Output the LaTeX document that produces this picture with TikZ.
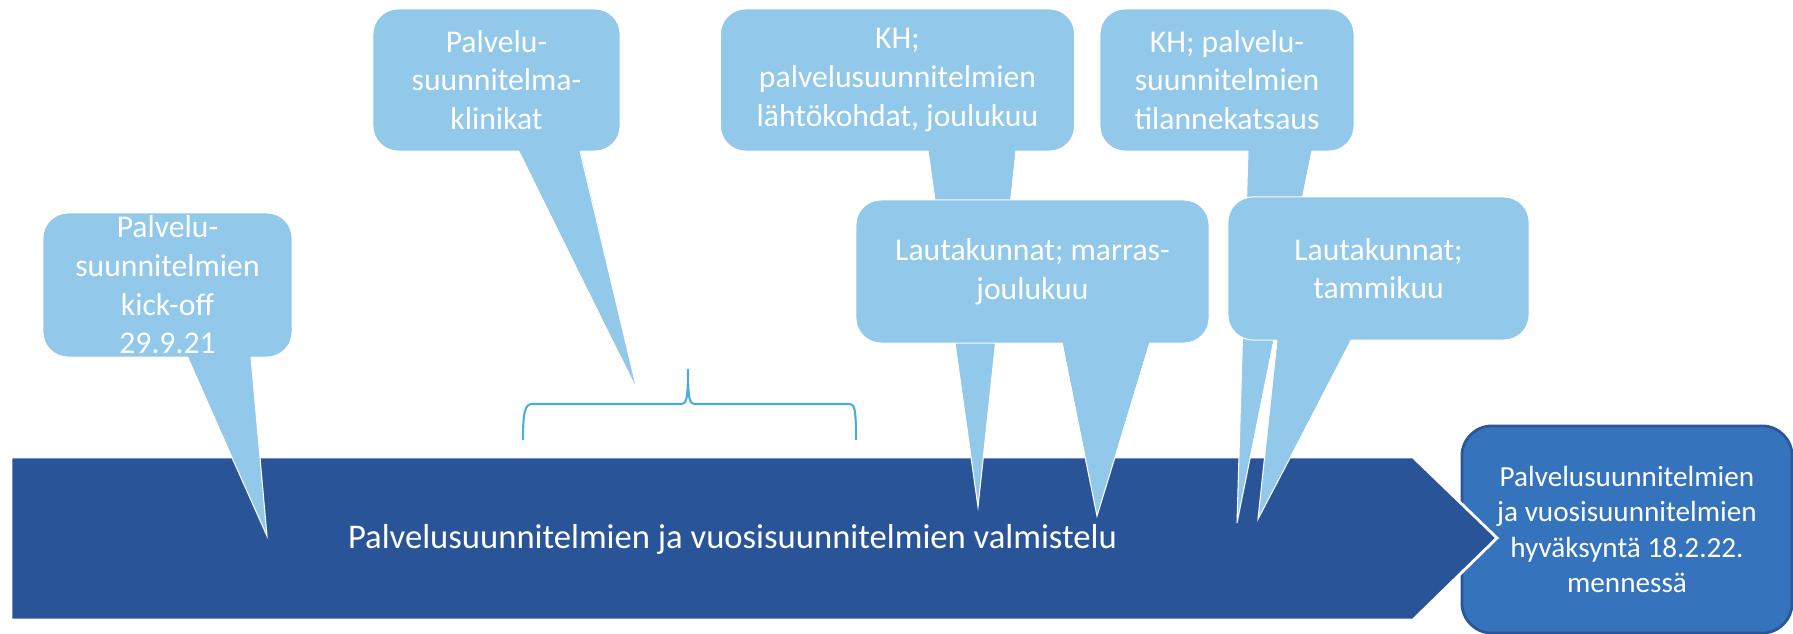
\documentclass[tikz,border=0pt]{standalone}
\usepackage{fontspec}
\setmainfont{Carlito}
\definecolor{callblue}{RGB}{146,200,234}
\definecolor{prepblue}{RGB}{41,85,152}
\definecolor{okblue}{RGB}{54,115,189}
\definecolor{okedge}{RGB}{44,86,150}
\definecolor{bracecol}{RGB}{75,172,222}
\tikzset{
	callbox/.style={fill=callblue, draw=white, line width=0.3pt, rounded corners=0.25cm, text=white, align=center, inner sep=0pt, font=\fontsize{9}{11}\selectfont},
	tail/.style={fill=callblue},
	tailedge/.style={draw=white, line width=0.3pt}
}
\begin{document}
\begin{tikzpicture}[x=0.01cm, y=-0.01cm]
	\useasboundingbox (0,0) rectangle (1793,634);
	\node[fill=okblue, draw=okedge, line width=0.8pt, rounded corners=0.3cm, minimum width=3.3cm, minimum height=2.07cm, text=white, align=center, font=\fontsize{8.3}{10}\selectfont] (ok) at (1627,529.5) {Palvelusuunnitelmien\\ja vuosisuunnitelmien\\hyväksyntä 18.2.22.\\mennessä};
	\filldraw[fill=prepblue, draw=white, line width=0.8pt] (11,457) -- (1413,457) -- (1497,538) -- (1413,620) -- (11,620) -- cycle;
	\node[text=white, anchor=base, inner sep=0pt, font=\fontsize{9.85}{12}\selectfont] (prep) at (732.5,549) {Palvelusuunnitelmien ja vuosisuunnitelmien valmistelu};
	\draw[bracecol, line width=0.6pt] (523,440) .. controls (523,412) and (525,404) .. (532,404) -- (682,404) .. controls (687,404) and (688,395) .. (688,369) .. controls (688,395) and (689,404) .. (694,404) -- (850,404) .. controls (855,404) and (856,412) .. (856,440);
	\node[callbox, minimum width=3.54cm, minimum height=1.42cm] (kh1) at (897.5,80) {KH;\\palvelusuunnitelmien\\lähtökohdat, joulukuu};
	\coordinate (kh1tip) at (978,507);
	\fill[tail] (928,148) -- (kh1tip) -- (1016,148) -- cycle;
	\draw[tailedge] (928,151) -- (kh1tip) -- (1016,151);
	\node[callbox, minimum width=2.54cm, minimum height=1.42cm] (kh2) at (1227,80) {KH; palvelu-\\suunnitelmien\\tilannekatsaus};
	\coordinate (kh2tip) at (1237,523);
	\fill[tail] (1248,148) -- (kh2tip) -- (1312,148) -- cycle;
	\draw[tailedge] (1248,151) -- (kh2tip) -- (1312,151);
	\node[callbox, minimum width=3.53cm, minimum height=1.43cm] (lk1) at (1032.5,271.5) {Lautakunnat; marras-\\joulukuu};
	\coordinate (lk1tip) at (1097,516);
	\fill[tail] (1062,340) -- (lk1tip) -- (1150,340) -- cycle;
	\draw[tailedge] (1062,343) -- (lk1tip) -- (1150,343);
	\node[callbox, minimum width=3.01cm, minimum height=1.43cm] (lk2) at (1378.5,268.5) {Lautakunnat;\\tammikuu};
	\coordinate (lk2tip) at (1258,519);
	\fill[tail] (1277,337) -- (lk2tip) -- (1352,337) -- cycle;
	\draw[tailedge] (1277,340) -- (lk2tip) -- (1352,340);
	\node[callbox, minimum width=2.49cm, minimum height=1.44cm] (kick) at (167.5,285) {Palvelu-\\suunnitelmien\\kick-off\\29.9.21};
	\coordinate (kicktip) at (267,536);
	\fill[tail] (187,354) -- (kicktip) -- (251,354) -- cycle;
	\draw[tailedge] (187,357) -- (kicktip) -- (251,357);
	\node[callbox, minimum width=2.47cm, minimum height=1.42cm] (klin) at (496.5,80) {Palvelu-\\suunnitelma-\\klinikat};
	\coordinate (klintip) at (637,390);
	\fill[tail] (518,148) -- (klintip) -- (580,148) -- cycle;
	\draw[tailedge] (518,151) -- (klintip) -- (580,151);
\end{tikzpicture}
\end{document}
